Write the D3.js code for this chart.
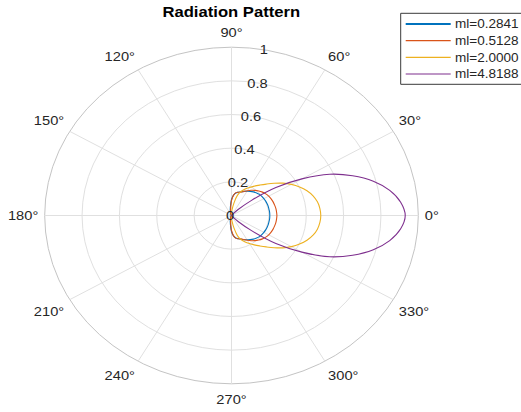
<!DOCTYPE html>
<html><head><meta charset="utf-8">
<script src="https://cdn.jsdelivr.net/npm/d3@7"></script>
<style>html,body{margin:0;padding:0;background:#fff;}svg{display:block;}</style>
</head><body>
<svg id="chart" width="521" height="412"></svg>
<script>
// ---- data ----
const angles = [0,5,10,15,20,25,30,35,40,45,50,55,60,65,70,75,80,85,90,95,100,105,110,115,120,125,130,135,140,145,150,155,160,165,170,175,
  180,185,190,195,200,205,210,215,220,225,230,235,240,245,250,255,260,265,270,275,280,285,290,295,300,305,310,315,320,325,330,335,340,345,350,355];
const seriesNames = ["ml=0.2841","ml=0.5128","ml=2.0000","ml=4.8188"];
const r1 = [0.205,0.205,0.204,0.204,0.203,0.202,0.200,0.198,0.195,0.190,0.183,0.175,0.166,0.158,0.150,0.143,0.136,0.122,0.095,0.060,0.038,0.025,0.017,0.012,0.008,0.006,0.004,0.003,0.002,0.001,0,0,0,0,0,0,
  0,0,0,0,0,0,0,0.001,0.002,0.003,0.004,0.006,0.008,0.012,0.017,0.025,0.038,0.060,0.095,0.122,0.136,0.143,0.150,0.158,0.166,0.175,0.183,0.190,0.195,0.198,0.200,0.202,0.203,0.204,0.204,0.205];
const r2 = [0.243,0.242,0.241,0.239,0.237,0.234,0.230,0.224,0.216,0.206,0.195,0.183,0.170,0.158,0.148,0.143,0.138,0.120,0.088,0.052,0.030,0.018,0.012,0.008,0.005,0.004,0.003,0.002,0.001,0,0,0,0,0,0,0,
  0,0,0,0,0,0,0,0,0.001,0.002,0.003,0.004,0.005,0.008,0.012,0.018,0.030,0.052,0.088,0.120,0.138,0.143,0.148,0.158,0.170,0.183,0.195,0.206,0.216,0.224,0.230,0.234,0.237,0.239,0.241,0.242];
const r3 = [0.478,0.475,0.467,0.452,0.430,0.402,0.370,0.335,0.298,0.264,0.236,0.213,0.192,0.173,0.153,0.125,0.075,0.035,0.015,0.006,0.002,0.001,0,0,0,0,0,0,0,0,0,0,0,0,0,0,
  0,0,0,0,0,0,0,0,0,0,0,0,0,0,0,0.001,0.002,0.006,0.015,0.035,0.075,0.125,0.153,0.173,0.192,0.213,0.236,0.264,0.298,0.335,0.370,0.402,0.430,0.452,0.467,0.475];
const r4 = [0.930,0.909,0.860,0.786,0.690,0.580,0.435,0.290,0.140,0.050,0.015,0.004,0,0,0,0,0,0,0,0,0,0,0,0,0,0,0,0,0,0,0,0,0,0,0,0,
  0,0,0,0,0,0,0,0,0,0,0,0,0,0,0,0,0,0,0,0,0,0,0,0,0,0.004,0.015,0.050,0.140,0.290,0.435,0.580,0.690,0.786,0.860,0.909];
const seriesValues = [r1, r2, r3, r4];
const colors = ["#0072BD","#D95319","#EDB120","#7E2F8E"];
const rTicks = [0, 0.2, 0.4, 0.6, 0.8, 1];
const rTickLabels = ["0","0.2","0.4","0.6","0.8","1"];
const thetaTicks = [0,30,60,90,120,150,180,210,240,270,300,330];
const thetaTickLabels = ["0°","30°","60°","90°","120°","150°","180°","210°","240°","270°","300°","330°"];
const titleText = "Radiation Pattern";

// ---- layout ----
const sx = 1.11;            // horizontal stretch of the original raster
const cxPage = 231.5, cyPage = 215.5;
const R = 168.3;
const font = "'Liberation Sans', Arial, Helvetica, sans-serif";
const textColor = "#262626";
const axFont = 13.2, legFont = 12.2, titleFont = 15;

const svg = d3.select("#chart");
const rScale = d3.scaleLinear().domain([0, 1]).range([0, R]);
const rad = d => d * Math.PI / 180;

const root = svg.append("g").attr("transform", `scale(${sx},1)`);
const plot = root.append("g").attr("transform", `translate(${cxPage / sx},${cyPage})`);

// grid circles
plot.selectAll("circle.grid").data(rTicks.filter(t => t > 0)).join("circle")
  .attr("r", d => rScale(d)).attr("fill", "none")
  .attr("stroke", d => d === 1 ? "#c4c4c4" : "#e0e0e0")
  .attr("stroke-width", 1).attr("vector-effect", "non-scaling-stroke");

// spokes
plot.selectAll("line.spoke").data(thetaTicks).join("line")
  .attr("x1", 0).attr("y1", 0)
  .attr("x2", d => rScale(1) * Math.cos(rad(d)))
  .attr("y2", d => -rScale(1) * Math.sin(rad(d)))
  .attr("stroke", "#e0e0e0").attr("stroke-width", 1).attr("vector-effect", "non-scaling-stroke");

// theta labels
const labR = R + 5.8;
plot.selectAll("text.theta").data(thetaTicks).join("text")
  .attr("x", d => labR * Math.cos(rad(d)))
  .attr("y", d => { const s = Math.sin(rad(d)); return -(R + 7) * s - (s > 0.01 ? 7.5 : s < -0.01 ? -8 : 0); })
  .attr("text-anchor", d => { const c = Math.cos(rad(d)); return c > 0.01 ? "start" : c < -0.01 ? "end" : "middle"; })
  .attr("dominant-baseline", "central")
  .attr("font-family", font).attr("font-size", axFont).attr("fill", textColor)
  .text((d, i) => thetaTickLabels[i]);

// curves
const line = d3.lineRadial()
  .angle(d => rad(90 - d[0]))
  .radius(d => rScale(d[1]))
  .curve(d3.curveCatmullRomClosed.alpha(0.5));
seriesValues.forEach((vals, k) => {
  const pts = angles.map((a, i) => [a, vals[i]]);
  plot.append("path").attr("d", line(pts)).attr("fill", "none")
    .attr("stroke", colors[k]).attr("stroke-width", 1.1).attr("vector-effect", "non-scaling-stroke");
});

// r tick labels (along 80 deg)
plot.selectAll("text.rt").data(rTicks).join("text")
  .attr("x", d => rScale(d) * Math.cos(rad(80)) - (d === 0 ? 1.2 : 0))
  .attr("y", d => -rScale(d) * Math.sin(rad(80)))
  .attr("text-anchor", "middle").attr("dominant-baseline", "central")
  .attr("font-family", font).attr("font-size", axFont).attr("fill", textColor)
  .text((d, i) => rTickLabels[i]);

// title
root.append("text").attr("x", 231.3 / sx).attr("y", 17.3)
  .attr("text-anchor", "middle").attr("font-family", font).attr("font-weight", "bold")
  .attr("font-size", titleFont).attr("fill", "#000").text(titleText);

// legend
const lg = root.append("g");
lg.append("rect").attr("x", 400.7 / sx).attr("y", 13.3).attr("width", 130 / sx).attr("height", 71)
  .attr("fill", "#fff").attr("stroke", "#3a3a3a").attr("stroke-width", 1).attr("vector-effect", "non-scaling-stroke");
seriesNames.forEach((name, k) => {
  const y = 24 + k * 16.67;
  lg.append("line").attr("x1", 405.7 / sx).attr("x2", 450.7 / sx).attr("y1", y).attr("y2", y)
    .attr("stroke", colors[k]).attr("stroke-width", k === 0 ? 1.8 : 1.1).attr("vector-effect", "non-scaling-stroke");
  lg.append("text").attr("x", 455 / sx).attr("y", y).attr("dominant-baseline", "central")
    .attr("font-family", font).attr("font-size", legFont).attr("fill", textColor).text(name);
});
</script>
</body></html>
